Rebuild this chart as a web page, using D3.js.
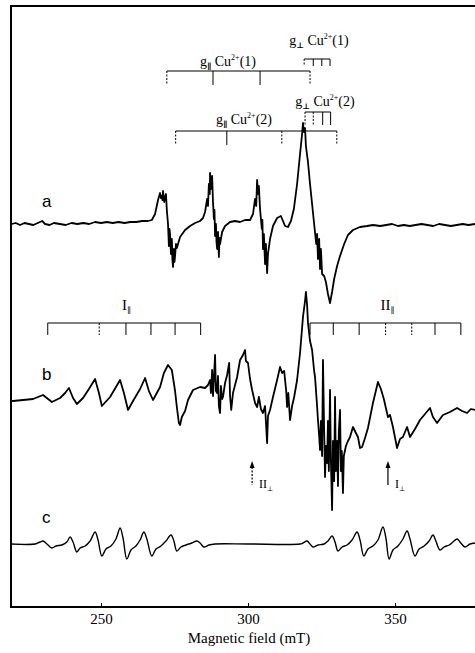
<!DOCTYPE html>
<html><head><meta charset="utf-8">
<script src="https://cdn.jsdelivr.net/npm/d3@7"></script>
<style>body{margin:0;background:#fff}</style>
</head><body>
<svg id="chart" width="475" height="653"></svg>
<script>
// ---- data ----
const fieldTicks = [250, 300, 350];
const curveA = [
[219.7,0],[221,1],[222.5,-1],[224,1],[225.5,0],[227,-1],[228.5,1],[230,3],[231,0],[232.5,-1],[234,1],[236,0],[238,-1],[240,1],[242,0],[244,1],[246,0],[248,2],[250,1],[252,2],[254,1],[256,2],[258,1],[260,2],[262,2],[264,3],[266,3],[267.3,4],
[268.4,10],[269.4,24],[270.1,31],[270.4,26],[270.7,28],[270.9,24],[271.1,33],[271.5,22],[271.8,27],[272.1,30],[272.4,14],[272.8,0],[273.1,-22],[273.3,-5],[273.5,-10],[273.8,-30],[274.1,-15],[274.3,-36],[274.5,-43],[274.8,-25],[275,-38],[275.2,-32],[275.5,-20],[275.8,-24],[276.9,-13],[278.6,-6],[280.3,-2],[282,1],[283.7,3],[284.7,6],
[285.4,12],[286.1,25],[286.4,18],[286.7,40],[287,30],[287.1,51],[287.4,35],[287.6,44],[287.8,48],[288.1,22],[288.4,5],[288.6,14],[288.8,-12],[289.1,0],[289.3,-18],[289.5,-25],[289.8,-8],[290.1,-33],[290.3,-14],[290.5,-20],[291.2,-8],[292.2,-2],[293.9,2],[295.6,3],[297.3,2],[299,4],[300.7,4],[301.7,10],
[302.4,25],[302.8,18],[303.1,44],[303.4,30],[303.7,38],[303.9,26],[304.1,15],[304.7,-5],[304.9,4],[305.1,-25],[305.4,-10],[305.8,-40],[306.1,-20],[306.3,-36],[306.5,-49],[306.8,-30],[307.5,-15],[308.5,-2],[309.9,6],[311.2,8],[312.6,-2],[313.6,-3],[314.6,3],[315.6,15],[316.7,40],[317.7,70],[318.4,90],[318.7,101],[319.0,92],[319.4,96],[319.7,78],[320.4,62],[321.1,40],[321.8,20],[322.5,0],[323.2,-20],[323.5,-10],[323.8,-35],[324.2,-15],[324.5,-45],[324.8,-25],[325.2,-50],[325.9,-52],[326.5,-58],[327.2,-70],[327.9,-79],[328.6,-68],[329.3,-55],[330.3,-42],[331.3,-32],[332.7,-20],[334,-11],[335.7,-6],[338.1,-3],[340.5,-2],[342.5,-1],[345,-2],[347,-1],[349,0],[351,-2],[353,-1],[355,-2],[357,-1],[359,0],[361,-1],[363,-2],[365,0],[367,-1],[369,-2],[371,-1],[373,0],[375,-1],[377.2,0]
];
const curveB = [
[219.4,0],[220.1,0],[223.5,1],[226.9,2],[230.3,6],[232,2],[233.3,-1],[234.7,1],[236.1,3],[237.8,8],[239.1,13],[240.5,3],[241.8,-3],[243.9,3],[245.9,12],[248,22],[249.3,8],[250.3,-5],[253.1,4],[255.1,14],[256.5,21],[257.8,8],[259.2,-9],[260.9,0],[263.3,12],[265,23],[266.3,10],[267.7,1],[270.1,14],[271.4,28],[272.8,36],[274.1,31],[275.2,10],[275.8,-6],[276.5,-22],[276.9,-24],[277.5,-16],[278.6,-10],[279.6,1],[281.3,11],[283.7,14],[285.4,13],[286.4,16],
[287.1,21],[287.4,8],[287.8,31],[288.1,5],[288.5,28],[288.8,46],[289.1,10],[289.5,8],[289.8,25],[290.1,-5],[290.5,-12],[290.8,15],[291.2,2],[291.5,4],[292.2,18],[292.9,26],[293.6,38],[293.9,5],[294.3,-9],[294.9,8],[296.3,24],[297.3,41],[298.3,46],[299,51],[299.3,40],[300,38],[300.7,22],[301.4,11],[302.4,-2],[303.1,-6],[303.7,4],[304.4,-8],[305.1,-12],[305.8,-5],[306.5,-42],[306.8,-15],[307.5,-9],[308.5,4],[309.9,21],[310.9,34],[311.6,28],[312.3,30],[313,10],[313.3,-6],[313.7,8],[314.3,-19],[315,-5],[315.7,4],[316.7,21],[317.7,48],[318.7,84],[319.4,100],[319.7,109],[320.1,96],[320.4,78],[321.1,60],[321.8,51],[322.5,30],[322.8,24],[323.5,-5],[323.8,-19],[324.2,-35],[324.5,-49],[324.8,-20],[325.2,-55],[325.5,41],[325.9,-30],[326.2,-76],[326.5,-45],[326.9,-62],[327.2,-20],[327.5,-70],[327.9,11],[328.2,-60],[328.6,-109],[328.9,-40],[329.3,-80],[329.6,4],[329.9,-70],[330.3,-40],[330.6,-85],[330.9,-30],[331.3,-9],[331.6,-70],[331.9,-50],[332.3,-92],[332.6,-55],[333.3,-45],[334,-40],[334.7,-36],[335.7,-26],[336.7,-32],[337.4,-36],[338.1,-47],[338.8,-46],[339.8,-37],[340.8,-27],[342.5,-2],[344.2,19],[345.2,12],[346.2,2],[347.6,-16],[348.3,-14],[349.3,-26],[350.7,-47],[351.7,-38],[352.7,-36],[354.1,-26],[355.1,-36],[356.8,-28],[358.5,-19],[360.2,-13],[361.9,-7],[362.9,-16],[364.3,-22],[366.3,-14],[368.7,-11],[371.1,-7],[372.8,-10],[374.5,-12],[375.8,-8],[377.2,-9]
];
const curveC = [
[219.4,0],[227.6,0],[229.3,2],[230.3,3],[231.6,0],[233.3,-4],[234.7,-2],[236.7,-1],[238.4,2],[239.5,7],[240.5,2],[241.8,-8],[242.9,-4],[244.6,-2],[246.3,3],[248,12],[249,4],[250.3,-12],[251.7,-5],[253.4,-2],[255.1,5],[256.5,16],[257.5,6],[258.8,-15],[260.2,-6],[261.9,-2],[263.3,4],[264.6,12],[265.6,5],[267.3,-12],[268.7,-5],[270.4,-2],[272.1,3],[273.8,9],[274.8,3],[275.8,-7],[277.2,-3],[278.9,-1],[280.9,1],[282.6,3],[283.7,1],[285,-3],[286.7,-1],[288.8,0],
[300,0],[317.7,0],[318.7,1],[320.1,3],[321.1,0],[322.1,-3],[323.8,-1],[325.9,0],[327.2,3],[328.6,8],[329.6,2],[330.6,-7],[332,-3],[333.7,-1],[335.4,4],[337.1,12],[338.1,4],[339.4,-12],[340.8,-5],[342.5,-2],[344.2,4],[345.9,17],[346.9,6],[348,-15],[349.3,-6],[351,-2],[352.7,5],[354.1,13],[355.1,5],[356.8,-12],[358.2,-5],[359.9,-2],[361.6,3],[362.9,9],[363.9,3],[365.3,-6],[366.7,-3],[368.4,-1],[369.7,2],[371.1,5],[372.1,2],[373.8,-3],[375.5,0],[377.2,1]
];
const gPar1  = [272.4, 288.1, 304.1, 321.1];
const gPerp1 = [319.1, 322.2, 325.1, 327.9];
const gPar2  = [275.4, 292.8, 311.5, 330.2];
const gPerp2 = [319.4, 322.2, 325.4, 328.1];
const iPar   = [231.9, 249.4, 258.5, 267.0, 275.2, 283.9];
const iiPar  = [321.1, 329.0, 337.8, 346.8, 355.7, 363.6, 372.4];
const perpArrows = [301.4, 347.6];
const curveNames = ["a", "b", "c"];

// ---- layout ----
const svg = d3.select("#chart");
const x = d3.scaleLinear().domain([219.4, 377]).range([11, 474.4]);
const y = d3.scaleLinear().domain([0, 601]).range([607, 6]);
const offsets = {a: 383, b: 206, c: 63};
const serif = "'Liberation Serif','DejaVu Serif',serif";

// frame
svg.append("path").attr("d", "M475,6H11V607H475").attr("fill","none")
  .attr("stroke","#000").attr("stroke-width",2);

// axis
const ax = svg.append("g").attr("transform","translate(0,607)")
  .call(d3.axisBottom(x).tickValues(fieldTicks).tickSize(-4).tickSizeOuter(0).tickPadding(6));
ax.select(".domain").remove();
ax.selectAll("line").attr("stroke","#000").attr("stroke-width",1);
ax.selectAll("text").attr("font-family",serif).attr("font-size",15).attr("fill","#000");
svg.append("text").attr("x",249).attr("y",643).attr("text-anchor","middle")
  .attr("font-family",serif).attr("font-size",15).text("Magnetic field (mT)");

// spectra
const series = [[curveA,"a"],[curveB,"b"],[curveC,"c"]];
series.forEach(([d,k]) => {
  const line = d3.line().x(p => x(p[0])).y(p => y(offsets[k] + p[1]))
    .curve(k === "c" ? d3.curveCatmullRom : d3.curveLinear);
  svg.append("path").datum(d).attr("d", line).attr("fill","none")
    .attr("stroke","#000").attr("stroke-width", k === "c" ? 1.4 : 1.8).attr("stroke-linejoin","round");
});
const labelPos = {a: 207, b: 380, c: 523};
curveNames.forEach(n => {
  svg.append("text").attr("x",42).attr("y",labelPos[n]).attr("font-family","'Liberation Sans',Arial,sans-serif")
    .attr("font-size",17).text(n);
});

// brackets
function bracket(vals, yTop, yBot, dashed) {
  const g = svg.append("g").attr("stroke","#000").attr("stroke-width",1);
  g.append("line").attr("x1",x(vals[0])).attr("x2",x(vals[vals.length-1])).attr("y1",yTop).attr("y2",yTop);
  vals.forEach((v,i) => {
    g.append("line").attr("x1",x(v)).attr("x2",x(v)).attr("y1",yTop).attr("y2",yBot)
      .attr("stroke-dasharray", dashed.includes(i) ? "2,1.5" : null);
  });
}
bracket(gPar1, 71, 85, [0,3]);
bracket(gPerp1, 59, 66, [0]);
bracket(gPerp2, 112, 125, [0,1]);
bracket(gPar2, 131, 145, [0,2,3]);
bracket(iPar, 323, 335, [1]);
bracket(iiPar, 323, 335, [3,4]);

function gLabel(xc, yb, sub, num) {
  const t = svg.append("text").attr("x",xc).attr("y",yb).attr("text-anchor","middle")
    .attr("font-family",serif).attr("font-size",14);
  t.append("tspan").text("g");
  t.append("tspan").attr("font-size",8).attr("dy",3).attr("font-weight","bold").text(sub);
  t.append("tspan").attr("dy",-3).text(" Cu");
  t.append("tspan").attr("font-size",8).attr("dy",-6).text("2+");
  t.append("tspan").attr("dy",6).text("(" + num + ")");
}
gLabel(228, 66, "\u2225", 1);
gLabel(319, 45, "\u22A5", 1);
gLabel(325, 106, "\u22A5", 2);
gLabel(244, 124, "\u2225", 2);

function romanLabel(xs, yb, main, sub, size) {
  const t = svg.append("text").attr("x",xs).attr("y",yb).attr("font-family",serif).attr("font-size",size);
  t.append("tspan").text(main);
  t.append("tspan").attr("font-size",size*0.55).attr("dy",3).text(sub);
}
romanLabel(x(258.5)-4, 310, "I", "\u2225", 15);
romanLabel(x(346.8)-5, 310, "II", "\u2225", 15);

// perpendicular arrows
perpArrows.forEach((f,i) => {
  const xa = x(f);
  svg.append("line").attr("x1",xa).attr("x2",xa).attr("y1",467).attr("y2",485)
    .attr("stroke","#000").attr("stroke-width",1.2).attr("stroke-dasharray", i===0 ? "2,1.5" : null);
  svg.append("path").attr("d",`M${xa},461L${xa-2.5},468L${xa+2.5},468Z`).attr("fill","#000");
  romanLabel(xa+7, 488, i===0 ? "II" : "I", "\u22A5", 12);
});
</script>
</body></html>
